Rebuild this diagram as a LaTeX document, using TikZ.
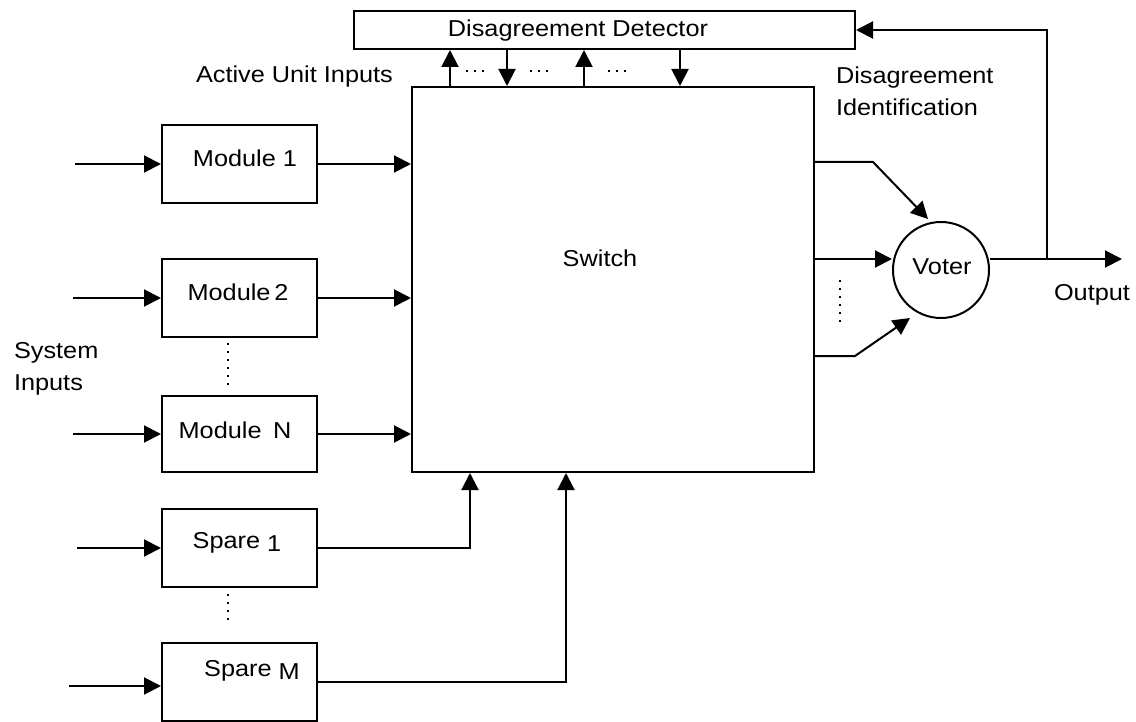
\documentclass[tikz,border=0pt]{standalone}
\usepackage{fontspec}
\setmainfont{Liberation Sans}[FakeStretch=1.1]
\usetikzlibrary{arrows.meta,calc}
\begin{document}
\begin{tikzpicture}[x=1pt,y=-1pt,line width=2pt,
  box/.style={draw,rectangle,inner sep=0pt,minimum width=155pt,minimum height=78pt},
  lbl/.style={inner sep=0pt,text height=16pt,text depth=0pt,font=\fontsize{23}{32}\selectfont},
  lbltwo/.style={inner sep=0pt,align=left,font=\fontsize{23}{32}\selectfont},
  arr/.style={-{Triangle[length=17pt,width=17pt]}},
  ellip/.style={line width=1.6pt,dash pattern=on 1.6pt off 6.4pt}]
\useasboundingbox (0,0) rectangle (1136,722);

% blocks
\node[box,minimum width=501pt,minimum height=38pt] (det) at (604.5,30) {};
\node[box,minimum width=402pt,minimum height=385pt] (sw) at (613,279.5) {};
\node[box] (m1) at (239.5,164) {};
\node[box] (m2) at (239.5,298) {};
\node[box,minimum height=76pt] (mN) at (239.5,434) {};
\node[box] (s1) at (239.5,548) {};
\node[box] (sM) at (239.5,682) {};
\node[draw,circle,minimum size=96pt,inner sep=0pt] (v) at (941,270) {};

% block texts
\node[lbl] (tdet) at (578,29) {Disagreement Detector};
\node[lbl] (tsw) at (600,259) {Switch};
\node[lbl] (tm1) at (245,159) {Module 1};
\node[lbl] (tm2) at (238,293) {Module\,2};
\node[lbl] (tmN) at (235,430) {Module\enspace N};
\node[lbl] (ts1) at (237,540) {Spare \raisebox{-3pt}{1}};
\node[lbl] (tsM) at (252,668) {Spare \raisebox{-3pt}{M}};
\node[lbl] (tv) at (942,267) {Voter};

% free labels
\node[lbl,anchor=west] (lau) at (195,75) {Active Unit Inputs};
\node[lbl,anchor=west] (lout) at (1053,293) {Output};
\node[lbltwo,anchor=west] (ldi) at (835,91) {Disagreement\\Identification};
\node[lbltwo,anchor=west] (lsi) at (13,369) {System\\Inputs};

% system inputs
\coordinate (in1) at (75,164);
\coordinate (in2) at (73,298);
\coordinate (inN) at (73,434);
\coordinate (ins1) at (77,548);
\coordinate (insM) at (69,686);
\draw[arr] (in1) -- (in1 -| m1.west);
\draw[arr] (in2) -- (in2 -| m2.west);
\draw[arr] (inN) -- (inN -| mN.west);
\draw[arr] (ins1) -- (ins1 -| s1.west);
\draw[arr] (insM) -- (insM -| sM.west);

% active units into the switch
\draw[arr] (m1.east) -- (m1.east -| sw.west);
\draw[arr] (m2.east) -- (m2.east -| sw.west);
\draw[arr] (mN.east) -- (mN.east -| sw.west);

% spares into the switch from below
\coordinate (b1) at (470,0);
\coordinate (b2) at (566,0);
\draw[arr] (s1.east) -| (b1 |- sw.south);
\draw[arr] (sM.east) -| (b2 |- sw.south);

% links between switch and disagreement detector
\coordinate (u1) at (450,0);
\coordinate (d1) at (507,0);
\coordinate (u2) at (584,0);
\coordinate (d2) at (680,0);
\draw[arr] (u1 |- sw.north) -- (u1 |- det.south);
\draw[arr] (d1 |- det.south) -- (d1 |- sw.north);
\draw[arr] (u2 |- sw.north) -- (u2 |- det.south);
\draw[arr] (d2 |- det.south) -- (d2 |- sw.north);
\draw[ellip] (466,71) -- (486,71);
\draw[ellip] (530,71) -- (550,71);
\draw[ellip] (608,71) -- (628,71);

% switch outputs into the voter
\coordinate (k1) at (873,162);
\coordinate (t1) at (928,219);
\coordinate (k2) at (0,259);
\coordinate (k3) at (855,356);
\coordinate (t3) at (910,318);
\draw[arr] (sw.east |- k1) -- (k1) -- (t1);
\draw[arr] (sw.east |- k2) -- (v.west |- k2);
\draw[arr] (sw.east |- k3) -- (k3) -- (t3);
\draw[ellip] (840,280) -- (840,322);

% output and feedback
\coordinate (tap) at (1047,259);
\coordinate (out) at (1122,259);
\draw[arr] (v.east |- tap) -- (out);
\draw[arr] (tap) |- (det.east);

% elided modules and spares
\draw[ellip] ($(m2.south)+(-11.5,5)$) -- ($(mN.north)+(-11.5,-6)$);
\draw[ellip] ($(s1.south)+(-11.5,6)$) -- ($(sM.north)+(-11.5,-20)$);
\end{tikzpicture}
\end{document}
